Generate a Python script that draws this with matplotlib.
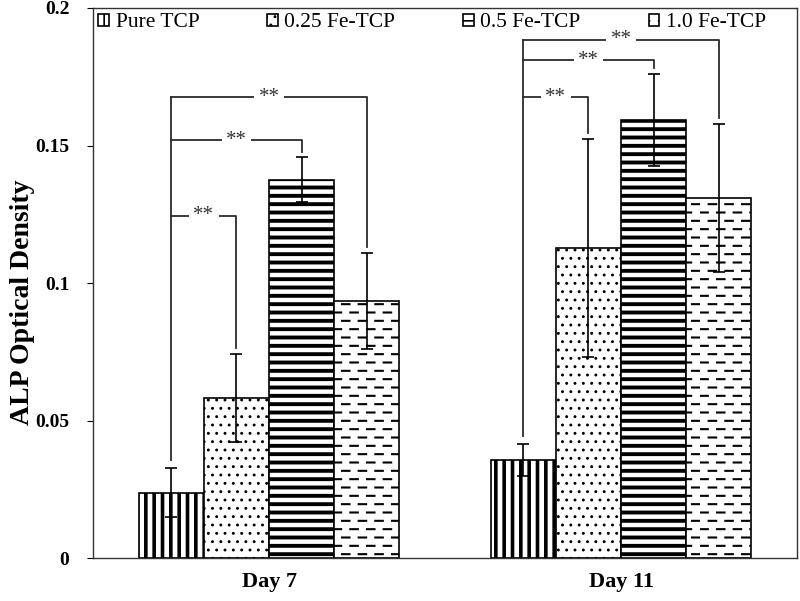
import matplotlib
matplotlib.use("Agg")
import matplotlib.pyplot as plt
import numpy as np
from matplotlib import hatch as mhatch

# ---------- data ----------
days = ["Day 7", "Day 11"]
groups = ["Pure TCP", "0.25 Fe-TCP", "0.5 Fe-TCP", "1.0 Fe-TCP"]

pure_tcp = [0.0238, 0.0356]
fe_025 = [0.0582, 0.1127]
fe_05 = [0.1375, 0.1593]
fe_10 = [0.0935, 0.1310]

pure_tcp_err = [0.0089, 0.0058]
fe_025_err = [0.0160, 0.0397]
fe_05_err = [0.0082, 0.0167]
fe_10_err = [0.0175, 0.0270]

# significance brackets: height of bracket for (pure vs 0.25, pure vs 0.5, pure vs 1.0)
sig_heights_day7 = [0.1245, 0.1520, 0.1675]
sig_heights_day11 = [0.1676, 0.1810, 0.1884]
sig_label = "**"


# ---------- custom dash hatch ('_') ----------
class DashHatch(mhatch.HatchPatternBase):
    def __init__(self, hatch, density):
        n = hatch.count("_")
        self.num_rows = 12 * n
        self.num_cols = 6
        self.num_vertices = self.num_rows * self.num_cols * 2

    def set_vertices_and_codes(self, vertices, codes):
        k = 0
        dash = 0.45 / self.num_cols
        for i in range(self.num_rows):
            y = (i + 0.5) / self.num_rows
            shift = 0.5 / self.num_cols if i % 2 else 0.0
            for j in range(self.num_cols):
                x0 = j / self.num_cols + shift + 0.02 / self.num_cols
                vertices[k] = (x0, y)
                vertices[k + 1] = (x0 + dash, y)
                codes[k] = matplotlib.path.Path.MOVETO
                codes[k + 1] = matplotlib.path.Path.LINETO
                k += 2


mhatch._hatch_types.append(DashHatch)
mhatch._validate_hatch_pattern = lambda h: None

plt.rcParams["font.family"] = ["Liberation Serif", "DejaVu Serif"]

fig = plt.figure(figsize=(8, 6.01), dpi=100)
ax = fig.add_axes([0.1163, 0.0715, 0.88, 0.9152])

x = np.arange(len(days))
width = 0.185
series = [pure_tcp, fe_025, fe_05, fe_10]
errs = [pure_tcp_err, fe_025_err, fe_05_err, fe_10_err]
hatches = ["||", "..", "--", "_"]
hatch_lws = [2.6, 0.9, 2.8, 1.5]

centers = []
for i, (vals, e, h, hlw) in enumerate(zip(series, errs, hatches, hatch_lws)):
    pos = x + (i - 1.5) * width
    centers.append(pos)
    plt.rcParams["hatch.linewidth"] = hlw
    bars = ax.bar(pos, vals, width, color="white", edgecolor="black",
                  linewidth=1.2, hatch=h, label=groups[i], zorder=2)
    for b in bars:
        if hasattr(b, "set_hatch_linewidth"):
            b.set_hatch_linewidth(hlw)
    ax.errorbar(pos, vals, yerr=e, fmt="none", ecolor="black",
                elinewidth=1.2, capsize=4, capthick=1.2, zorder=3)

# brackets
for d, heights in enumerate([sig_heights_day7, sig_heights_day11]):
    x_left = centers[0][d]
    left_bottom = series[0][d] + errs[0][d] + 0.003
    ax.plot([x_left, x_left], [left_bottom, max(heights)], color="#2b2b2b",
            lw=1.3, zorder=4)
    for g, hgt in zip([1, 2, 3], heights):
        x_right = centers[g][d]
        top_err = series[g][d] + errs[g][d]
        ax.plot([x_left, x_right, x_right], [hgt, hgt, top_err + 0.002],
                color="#2b2b2b", lw=1.3, zorder=4)
        ax.text((x_left + x_right) / 2, hgt, sig_label, ha="center",
                va="center", fontsize=15, color="#333333", zorder=5,
                bbox=dict(facecolor="white", edgecolor="none", pad=3))

ax.set_xlim(-0.5, 1.5)
ax.set_ylim(0, 0.2)
ax.set_xticks(x)
ax.set_xticklabels(days, fontsize=16, fontweight="bold")
ax.set_yticks([0, 0.05, 0.1, 0.15, 0.2])
ax.set_yticklabels(["0", "0.05", "0.1", "0.15", "0.2"], fontsize=14,
                   fontweight="bold")
ax.tick_params(axis="x", length=0, pad=10)
ax.tick_params(axis="y", length=4, pad=13)
ax.set_ylabel("ALP Optical Density", fontsize=20, fontweight="bold")
ax.yaxis.set_label_coords(-0.083, 0.465)
for s in ax.spines.values():
    s.set_linewidth(1.0)
    s.set_color("#333333")

leg = ax.legend(loc="upper left", ncol=4, frameon=False, fontsize=15.5,
                handlelength=0.5, handleheight=0.5, handletextpad=0.3,
                columnspacing=3.15, borderaxespad=0.05, borderpad=0.2)
for p, hlw in zip(leg.get_patches(), hatch_lws):
    if hasattr(p, "set_hatch_linewidth"):
        p.set_hatch_linewidth(min(hlw, 1.2))

fig.savefig("out.png", dpi=100)
